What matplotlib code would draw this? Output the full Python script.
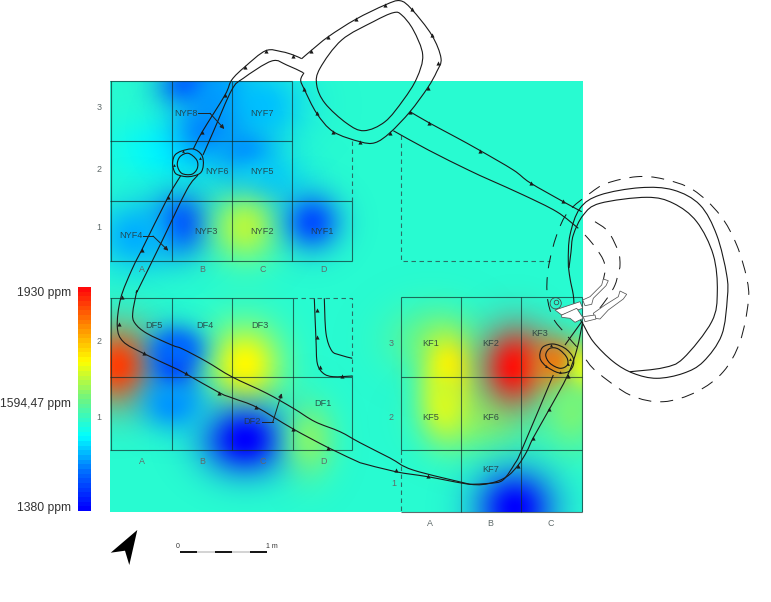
import numpy as np
import matplotlib
matplotlib.use("Agg")
import matplotlib.pyplot as plt
from matplotlib.colors import LinearSegmentedColormap, to_rgba
from matplotlib.path import Path
from matplotlib.patches import PathPatch, Polygon, Circle

plt.rcParams['font.family'] = ['Liberation Sans', 'DejaVu Sans']

PPM_MIN, PPM_MAX = 1380, 1930
BACKGROUND_PPM = 1596

# concentration anomalies: position, ppm, spread
anom_x = [190, 222, 168, 246, 262, 205, 260, 180, 245, 312, 135,
          118, 175, 245, 245, 178, 172, 310, 432, 480, 448, 445, 515, 556, 582, 572, 515]
anom_y = [85, 95, 150, 152, 105, 130, 182, 224, 227, 222, 236,
          366, 366, 365, 440, 348, 405, 440, 340, 420, 368, 405, 367, 366, 372, 412, 508]
anom_ppm = [1450, 1500, 1560, 1480, 1525, 1490, 1530, 1445, 1700, 1450, 1515,
            1890, 1430, 1750, 1380, 1470, 1500, 1665, 1650, 1660, 1755, 1720, 1930, 1860, 1750, 1660, 1380]
anom_sx = [22, 24, 40, 20, 30, 24, 30, 21, 23, 20, 28,
           26, 18, 25, 29, 18, 22, 18, 30, 34, 17, 18, 24, 19, 10, 22, 27]
anom_sy = [16, 24, 22, 20, 26, 24, 22, 22, 24, 20, 24,
           28, 22, 28, 24, 14, 18, 26, 24, 24, 24, 26, 28, 20, 18, 28, 26]

# scale stops of the colour bar
stop_pos = [0, .17, .33, .5, .67, .83, 1]
stop_col = ['#0000ff', '#006eff', '#00ffff', '#6ef582', '#ffff00', '#ff8c00', '#ff0a0a']

cmap = LinearSegmentedColormap.from_list('ppm', list(zip(stop_pos, stop_col)), N=48)
smooth = LinearSegmentedColormap.from_list('ppm2', list(zip(stop_pos, stop_col)))
def colour(v):
    return smooth((v - PPM_MIN) / (PPM_MAX - PPM_MIN))

# drawn outlines
wall_outer = [(360,462.7),(328.3,447.7),(292.7,428.7),(256.7,407.3),(233.3,398.3),(219.3,392.7),(185,373.3),(171.7,366.7),
  (143.3,353.3),(123.3,341.7),(117.3,326.7),(120.7,298.3),(131.7,270),(141.7,250),(168.3,196.7),(180.7,175.7)]
wall_outer2 = [(360,462.7),(395.7,471.7),(427.7,476.7),(470,484.3),(490,483.3),(506.7,476.7),(518.3,465),(526.7,451.7),
  (533.3,437.7),(549.3,409.3),(567.3,376),(576.7,350),(582.7,322)]
wall_inner = [(303.3,72.7),(286.7,65),(271.7,61),(243.3,78.3),(231.7,90),(213.3,131.7),(203,155)]
wall_inner1 = [(198,175),(186.7,190),(161.7,241.7),(138.3,289.3),(136.7,291.7),(132.7,313.3),(135,323.3),(146.7,333.3),(171.7,345),
  (182.7,349),(206.7,361.7),(231.7,376.7),(266.7,393.3),(293.3,408.3),(315,421.7),(340,431.7),(360,442.7),(390,458),(413,470),(470,484.3)]
wall_inner2 = [(470,484.3),(490,483.3),(503,480),(515,463.3),(521.7,450),(553.3,375)]
wall_inner3 = [(565,345),(581.7,321.7)]
oval_outer = [(193.3,149),(202.3,131.7),(225,95),(231.7,80),(245,66.7),(265.7,50.7),(281.7,51.7),(293.3,55),(301.7,58.7)]
oval_top = [(301.7,58.7),(311,50.7),(328.3,36.7),(355.7,19.3),(385,5),(400,0.7),(411.7,9.3),(431.7,35),(441,58.3),(436.7,71.7),
  (427.7,87.7),(410,111.7),(390,132.7),(375,142.7),(360,141.7),(333.3,131.7),(316.7,113.3),(304.3,89.3),(300.7,80),(304,72.7)]
oval_inner = [(393.3,12.7),(401.7,15),(413.3,30),(422.7,55),(416.7,78.3),(403.3,100),(385,121.7),(364,130.7),(346.7,123.3),
  (325,103.3),(316.7,85),(320,68.3),(341.7,40),(373.3,21.7),(393.3,12.7)]
link_upper = [(410,111.7),(430,123.3),(455,136.7),(480,150.5),(513.3,170),(530,182.7),(563.3,201.7),(581.7,211.7)]
link_lower = [(393.3,130.7),(428.3,150),(468.3,170),(490,180),(523.3,195),(556.7,211.7),(578.3,228.3)]
round_a = [(581.7,321.7),(593.3,341.7),(613.3,361.7),(633.3,373.3),(656.7,378.3),(683.3,373.3),(703.3,361.7),(721.7,335),(727.3,298.3),
  (726.7,275),(716.7,235),(700,205),(673.3,190),(640,187.7),(600,195),(580,208.3),(570,235),(568.3,261.7),(570,278.3),(573.3,295),(575,311.7),(581.7,321.7)]
round_b = [(569,268),(571,252),(573.3,235),(583.3,215),(600,203.3),(646.7,197.3),(673.3,203.3),(696.7,221.7),(713.3,255),(717.3,291.7),
  (711.7,321.7),(683.3,358.3),(663.3,367.7),(630,371.7)]
round_dash = [(576.7,346.7),(565,333.3),(553.3,318.3),(547.3,296.7),(548.3,268.3),(556.7,235),(568.3,211.7),(590,193.3),(606.7,183.3),(636.7,176.7),
  (663.3,179),(693.3,190),(720,215),(736.7,245),(746.7,278.3),(748.3,301.7),(740,341.7),(723.3,371.7),(696.7,391.7),(663.3,401.7),(630,395),
  (596.7,371.7),(585,358.3)]
arc_1 = [(585,235),(595,246.7),(603.3,260),(605,270),(603.3,280)]
arc_2 = [(595,221.7),(608.3,231.7),(618.3,251.7),(620,265),(618.3,273.3),(615,285),(608.3,296.7),(598.3,310)]
house_out = [(314.3,298.3),(316,340),(317.3,363.3),(323.3,373.3),(333.3,376.7),(352.3,376)]
house_in = [(324.3,298.3),(326,333.3),(331.7,350.7),(340,355),(352.3,358.3)]
ring1_out = [(172.7,161.7),(175,155),(181.7,151),(193.3,149),(201.7,155),(203.3,165),(200,173.3),(188.3,176.7),(176.7,174.3),(173.3,168.3),(172.7,161.7)]
ring1_in = [(177.3,165),(180,156.7),(188.3,153.3),(196.7,160),(197.3,168.3),(191.7,174.3),(181.7,173.3),(177.3,165)]
ring2_out = [(540,353.3),(543.3,346.7),(553.3,344),(565,348.3),(572.7,356.7),(573.3,365),(568.3,371.7),(558.3,372.7),(546.7,366.7),(540.7,360),(540,353.3)]
ring2_in = [(545.7,355),(550,348.3),(558.3,349),(566.7,357.3),(567.3,365),(560,368.3),(550,363.3),(545.7,355)]
wall_curves = [wall_outer, wall_outer2, wall_inner, wall_inner1, wall_inner2, wall_inner3, oval_outer, oval_top, oval_inner,
               link_upper, link_lower, round_a, round_b, house_out, house_in, ring1_out, ring1_in, ring2_out, ring2_in]

wall_marks = [(121.7,296.7),(118.7,324.3),(144,353.3),(185.7,373.3),(219.3,392.7),(256.3,407.3),(292.7,428.7),(328.3,447.7),
  (395.7,470),(427.7,476),(518.3,465.7),(533.3,437.7),(549.3,409.3),(567.7,376),(141.7,250),(168.3,196.7),(202.3,131.7),(225,95),
  (245,66.7),(265.7,50.7),(293.3,56),(311,50.7),(328.3,36.7),(355.7,19.3),(385,5),(411.7,9.3),(431.7,35),(438.3,63.3),(427.7,87.7),
  (410,111.7),(390,132.7),(360,141.7),(333.3,131.7),(316.7,113.3),(304.3,89.3),(429,123.3),(480,150.5),(530.7,182.7),(562.7,201),
  (316.7,310),(317.3,337.3),(320,367.3),(341.7,375.7)]
ring_marks = [(183,151),(200,158),(174,165),(551,345),(570,359),(546,366),(560,372),(568,364)]

kiln_parts = [
  [(603.3,279),(608.3,280.7),(606,285.7),(593.3,298.3),(591.7,304.3),(585,305.7),(582.7,300),(590,296.7),(601.7,285)],
  [(620,291),(626.7,294.3),(623.3,299),(608.3,310),(600,319),(595,318.3),(593.3,313.3),(605,305),(618.3,296.7)],
  [(583.3,316.7),(595,315),(596,319),(585,321.7)],
  [(555,310),(580,301.7),(582.7,308.3),(561.7,315)],
  [(561.7,315),(576.7,308.3),(583.3,318.3),(575,322.3),(570,318.3),(561.7,317.3)],
]

# labelled grids
cell_names = ['NYF8','NYF7','NYF6','NYF5','NYF4','NYF3','NYF2','NYF1','DF5','DF4','DF3','DF2','DF1','KF1','KF2','KF3','KF5','KF6','KF7']
cell_x = [185.5,261.7,216.7,261.7,130.7,205.7,261.7,321.7,154,205,260,251.7,323.3,431,491,540,431,491,491]
cell_y = [114,114,172,172,236,232,232,232,326,326,326,422,403,343,343,334,418,418,470]
axis_names = ['3','2','1','A','B','C','D','2','1','A','B','C','D','3','2','1','A','B','C']
axis_x = [99,99,99,142,202,263,323,99,99,142,202,263,323,391,391,394,430,490,551]
axis_y = [108,169,227,269,269,269,269,342,418,461,461,461,461,343,418,483,523,523,523]
bar_labels = ['1930 ppm', '1594,47 ppm', '1380 ppm']
bar_label_y = [293, 404, 508]

W, H = 771, 602
fig = plt.figure(figsize=(W/100, H/100), dpi=100)
ax = fig.add_axes([0, 0, 1, 1])

# field
mx0, mx1, my0, my1 = 110.3, 582.5, 81, 512
gx, gy = np.meshgrid(np.linspace(mx0, mx1, 473), np.linspace(my0, my1, 432))
ax.imshow(np.ones((2, 2, 4)) * np.array(colour(BACKGROUND_PPM)), extent=(mx0, mx1, my1, my0), zorder=1)
for x, y, v, sx, sy in zip(anom_x, anom_y, anom_ppm, anom_sx, anom_sy):
    layer = np.ones(gx.shape + (4,)) * np.array(colour(v))
    layer[..., 3] = np.exp(-0.5 * (((gx - x) / sx) ** 2 + ((gy - y) / sy) ** 2))
    ax.imshow(layer, extent=(mx0, mx1, my1, my0), zorder=1, interpolation='bilinear')

# colour bar
ax.imshow(np.linspace(1, 0, 48)[:, None], cmap=cmap, vmin=0, vmax=1, extent=(78, 91, 511, 287.5), zorder=1, interpolation='nearest')
for s, y in zip(bar_labels, bar_label_y):
    ax.text(71, y, s, ha='right', va='center', fontsize=8.7, color='#333333', zorder=6)

grid = dict(color=to_rgba('#102a2a', .68), lw=.8, zorder=2, solid_capstyle='butt')
dash = dict(color=to_rgba('#2b4a4a', .8), lw=.8, ls=(0, (4, 3.2)), zorder=2)
def hv(xs, ys, **kw):
    ax.plot(xs, ys, **kw)

# NYF grid
hv([110.3, 291.7], [81, 81], **grid); hv([110.3, 291.7], [141, 141], **grid)
hv([110.3, 352], [201, 201], **grid); hv([110.3, 352], [261, 261], **grid)
for x in [110.6, 171.7, 231.7, 291.7]:
    hv([x, x], [81, 261], **grid)
hv([352, 352], [201, 261], **grid)
hv([351.7, 351.7], [141, 201], **dash)
hv([400.7, 400.7, 550], [135, 260.7, 260.7], **dash)
# DF grid
hv([110.3, 292.7], [298, 298], **grid); hv([110.3, 352], [377, 377], **grid); hv([110.3, 352], [450.3, 450.3], **grid)
for x in [110.6, 171.7, 231.7, 292.7]:
    hv([x, x], [298, 450.3], **grid)
hv([352, 352], [377, 450.3], **grid)
hv([292.7, 352, 352], [298, 298, 377], **dash)
# KF grid
hv([400.7, 582.3], [297.3, 297.3], **grid); hv([400.7, 582.3], [377, 377], **grid); hv([400.7, 582.3], [450.3, 450.3], **grid)
hv([400.7, 582.3], [511.5, 511.5], **grid)
hv([400.7, 400.7], [297.3, 450.3], **grid); hv([400.7, 400.7], [450.3, 511.5], **dash)
for x in [460.7, 521.3, 582.3]:
    hv([x, x], [297.3, 511.5], **grid)

def curve(pts):
    p = np.array(pts, float)
    closed = np.allclose(p[0], p[-1]) and len(p) > 3
    if closed:
        q = np.vstack([p[-2], p, p[1]])
    else:
        q = np.vstack([p[0], p, p[-1]])
    verts, codes = [p[0]], [Path.MOVETO]
    for i in range(1, len(q) - 2):
        verts += [q[i] + (q[i + 1] - q[i - 1]) / 6, q[i + 1] - (q[i + 2] - q[i]) / 6, q[i + 1]]
        codes += [Path.CURVE4] * 3
    return Path(verts, codes)

for c in wall_curves:
    ax.add_patch(PathPatch(curve(c), fc='none', ec='#1a1a1a', lw=.8, zorder=3))
for c in [round_dash, arc_1, arc_2]:
    ax.add_patch(PathPatch(curve(c), fc='none', ec='#1a1a1a', lw=.72, ls=(0, (13, 9)), zorder=3))

mx, my = zip(*wall_marks)
ax.scatter(mx, my, s=9, marker='^', color='#1a1a1a', linewidths=0, zorder=4)
mx, my = zip(*ring_marks)
ax.scatter(mx, my, s=4, marker='^', color='#1a1a1a', linewidths=0, zorder=4)

# kiln details
for part in kiln_parts:
    ax.add_patch(Polygon(part, closed=True, fc='white', ec='#555555', lw=.55, zorder=4))
ax.add_patch(Circle((555.7, 303.3), 5.6, fc='none', ec='#444444', lw=.55, zorder=4))
ax.add_patch(Circle((556.5, 302.5), 2.3, fc='none', ec='#444444', lw=.55, zorder=4))

# text
for s, x, y in zip(cell_names, cell_x, cell_y):
    ax.text(x, y, s, ha='center', va='center', fontsize=6.6, color=to_rgba('#25383a', .85), zorder=6)
for s, x, y in zip(axis_names, axis_x, axis_y):
    ax.text(x, y, s, ha='center', va='center', fontsize=6.4, color='#5f6a6a', zorder=6)

# leader arrows
leaders = [[(198, 113.3), (210, 113.3), (224.3, 129)], [(143, 236), (153, 236), (168.3, 250.7)], [(262.3, 422.3), (272.7, 422.3), (281.7, 393.3)]]
for l in leaders:
    ax.plot([l[0][0], l[1][0]], [l[0][1], l[1][1]], color='#222222', lw=.7, zorder=5)
    ax.annotate('', xy=l[2], xytext=l[1], arrowprops=dict(arrowstyle='-|>', color='#222222', lw=.7, mutation_scale=6, shrinkA=0, shrinkB=0), zorder=5)

# north arrow
ax.add_patch(Polygon([(110.7, 552.7), (137.3, 530), (129.3, 565), (125, 550.7)], closed=True, fc='black', ec='none', zorder=5))

# scale bar
sb = [180, 197.4, 214.8, 232.2, 249.6, 267.3]
for i in range(5):
    ax.plot(sb[i:i + 2], [551.7, 551.7], color='black' if i % 2 == 0 else '#d0d0d0', lw=1.3, solid_capstyle='butt', zorder=5)
ax.text(178, 546, '0', ha='center', va='center', fontsize=5, color='#333333')
ax.text(272, 546, '1 m', ha='center', va='center', fontsize=5, color='#333333')

ax.set_xlim(0, W); ax.set_ylim(H, 0)
ax.set_aspect('auto')
ax.axis('off')
fig.savefig('out.png', dpi=100, facecolor='white')
